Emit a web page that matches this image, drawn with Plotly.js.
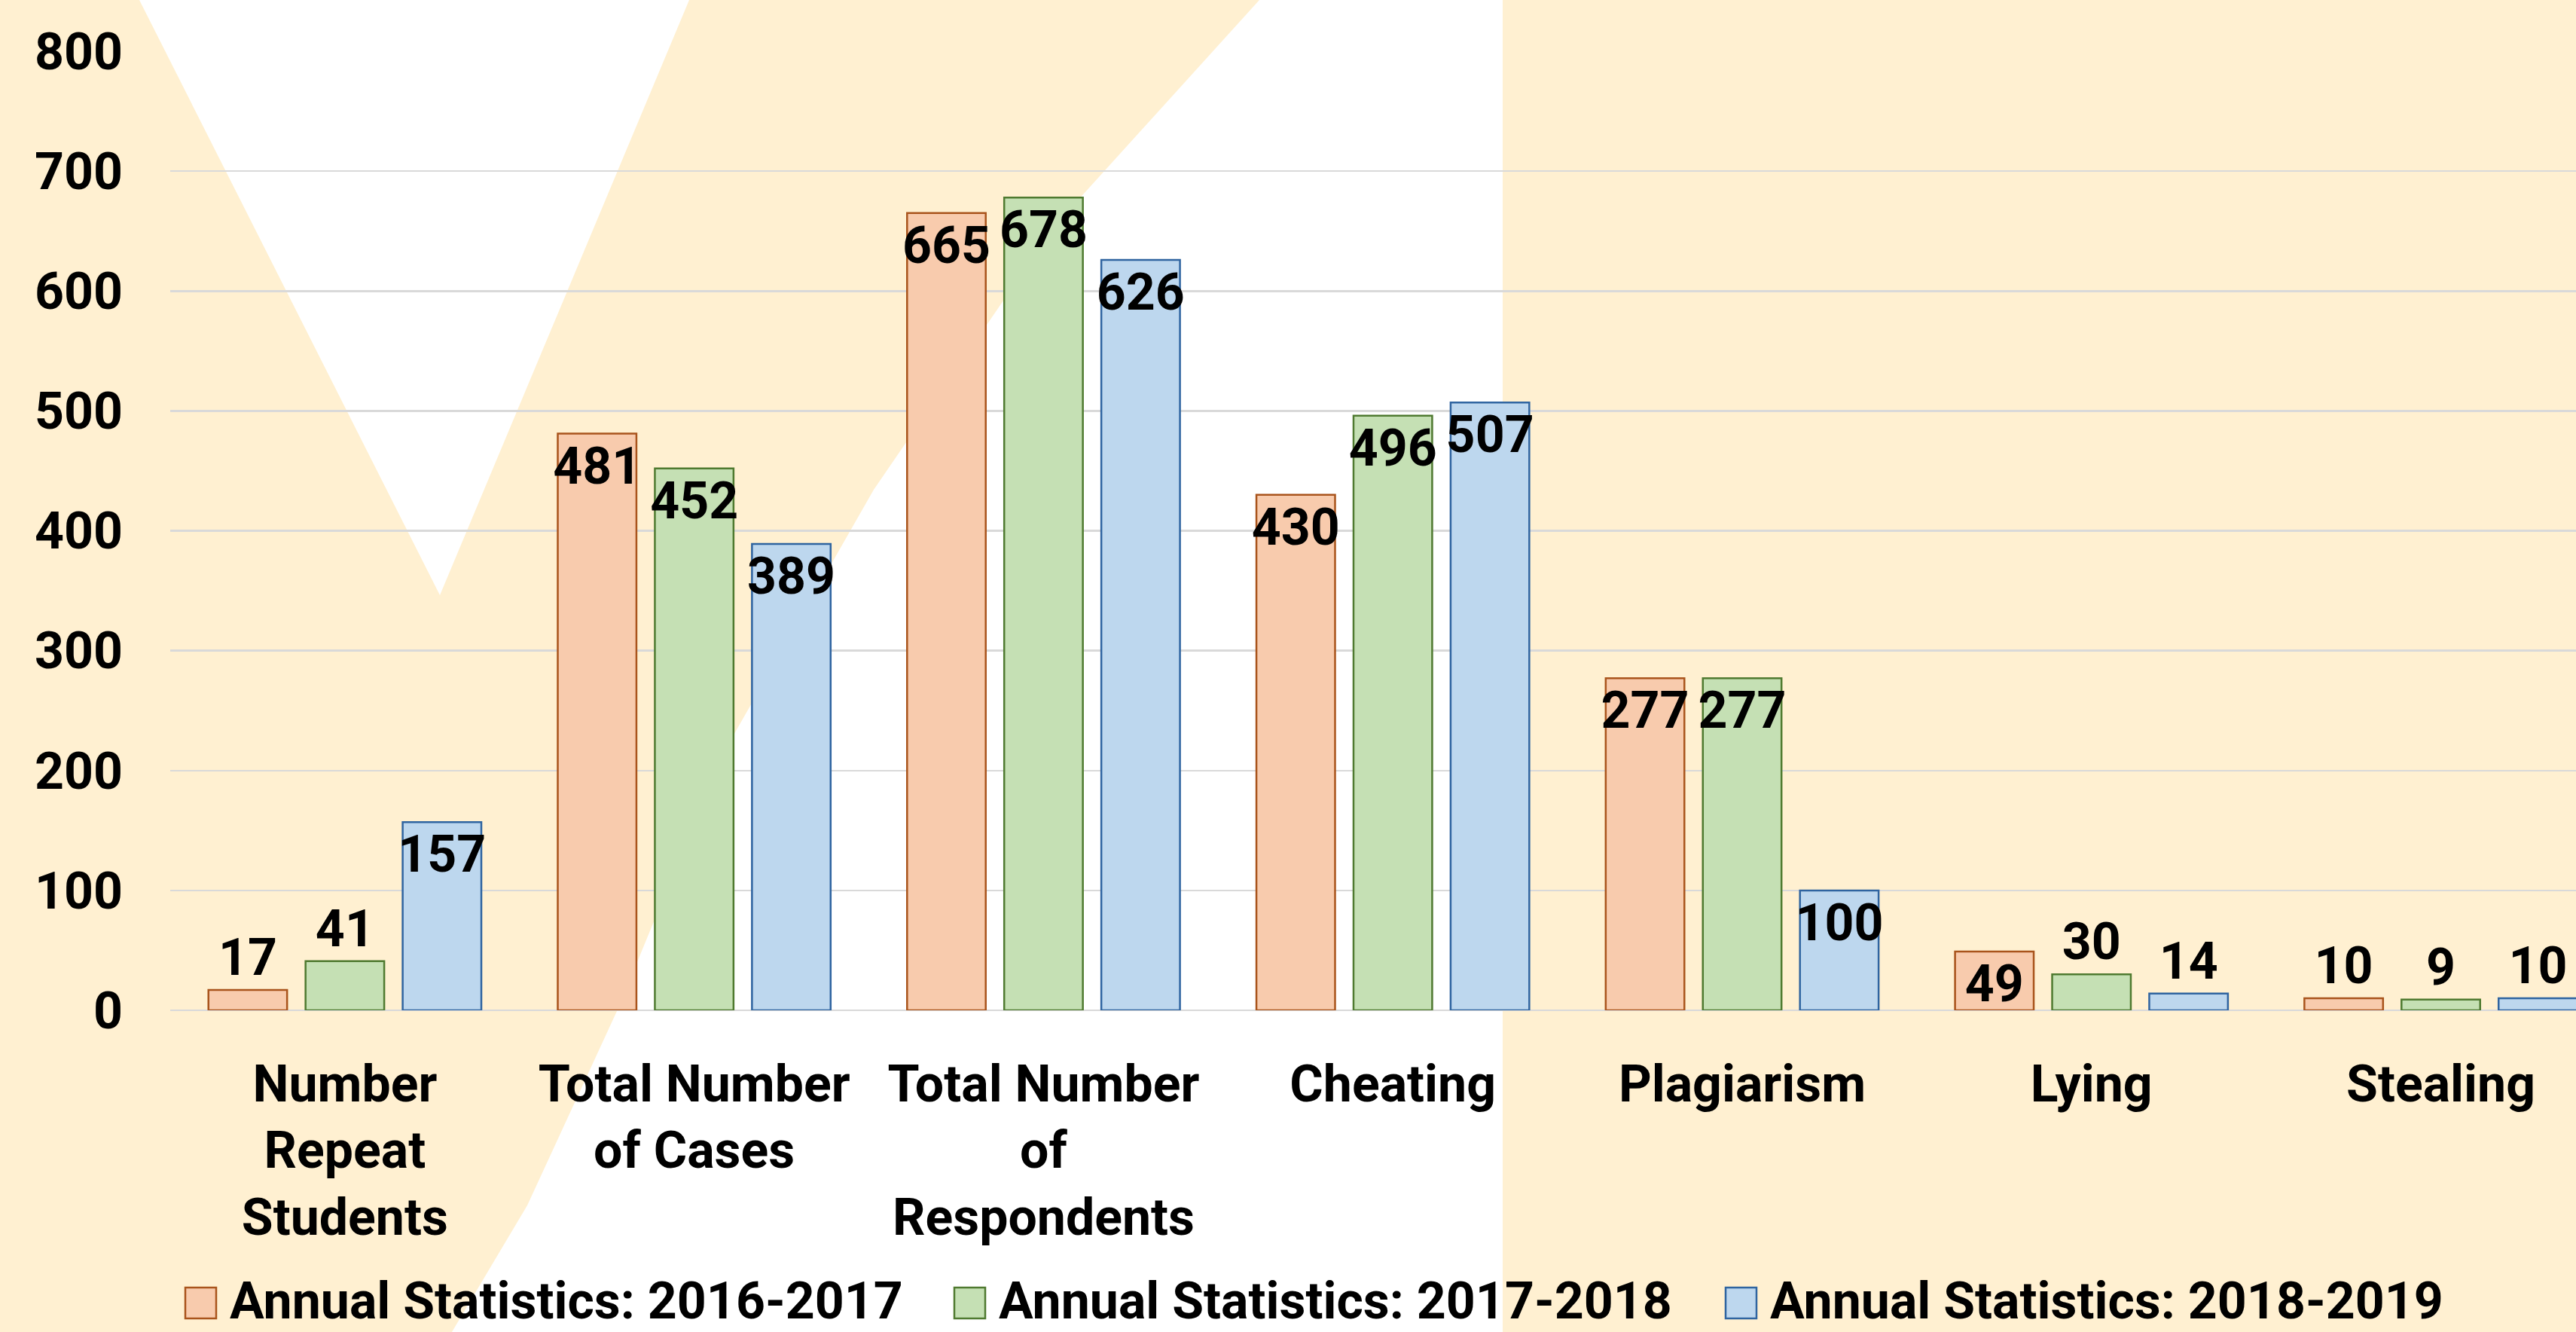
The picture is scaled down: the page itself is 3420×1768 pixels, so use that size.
<!DOCTYPE html>
<html>
<head>
<meta charset="utf-8">
<script src="https://cdn.plot.ly/plotly-3.0.1.min.js"></script>
<style>
  html, body { margin: 0; padding: 0; background: #FFF0D1; }
  #chart { width: 3420px; height: 1768px; }
</style>
</head>
<body>
<div id="chart"></div>
<script>
// ---- data ----
const categories = ['Number Repeat Students', 'Total Number of Cases', 'Total Number of Respondents', 'Cheating', 'Plagiarism', 'Lying', 'Stealing'];
const tickLabels = ['Number<br>Repeat<br>Students', 'Total Number<br>of Cases', 'Total Number<br>of<br>Respondents', 'Cheating', 'Plagiarism', 'Lying', 'Stealing'];
const seriesNames = ['Annual Statistics: 2016-2017', 'Annual Statistics: 2017-2018', 'Annual Statistics: 2018-2019'];
const values2016 = [17, 481, 665, 430, 277, 49, 10];
const values2017 = [41, 452, 678, 496, 277, 30, 9];
const values2018 = [157, 389, 626, 507, 100, 14, 10];
const yTicks = [0, 100, 200, 300, 400, 500, 600, 700, 800];

// ---- styling ----
const W = 3420, H = 1768;
const M = { l: 226, r: 0, t: 68, b: 427 };
const cream = '#FFF0D1';
const fills = ['#F8CBAD', '#C5E0B4', '#BDD7EE'];
const lines = ['#A9541C', '#4F7A30', '#2F64A0'];
const FONT = { family: 'Roboto, "Open Sans", sans-serif', size: 68, color: '#000000', weight: 700 };

const plotW = W - M.l - M.r, plotH = H - M.t - M.b;
const px = x => (x - M.l) / plotW;
const py = y => (H - M.b - y) / plotH;
function path(pts) {
  return 'M' + pts.map(p => px(p[0]).toFixed(5) + ',' + py(p[1]).toFixed(5)).join('L') + 'Z';
}

const seriesValues = [values2016, values2017, values2018];
const traces = seriesValues.map((vals, i) => ({
  type: 'bar',
  name: seriesNames[i],
  x: categories,
  y: vals,
  text: vals.map(String),
  textposition: vals.map(v => v >= 45 ? 'inside' : 'outside'),
  insidetextanchor: 'end',
  textangle: 0,
  constraintext: 'none',
  textfont: FONT,
  insidetextfont: FONT,
  outsidetextfont: FONT,
  marker: { color: fills[i], line: { color: lines[i], width: 2.5 } },
  hoverinfo: 'x+y+name'
}));

// background decoration (white swoosh shapes on cream)
const shapes = [
  { type: 'path', xref: 'paper', yref: 'paper', layer: 'below', line: { width: 0 }, fillcolor: '#FFFFFF',
    path: path([[185, 0], [915, 0], [584, 790]]) },
  { type: 'path', xref: 'paper', yref: 'paper', layer: 'below', line: { width: 0 }, fillcolor: '#FFFFFF',
    path: path([[1672, 0], [1995, 0], [1995, 1768], [600, 1768], [700, 1600], [820, 1340], [960, 1000], [1160, 650], [1400, 300]]) }
];

// custom legend (large swatches)
const legendX = [246, 1267, 2291];
const legendBottom = 1750;
const annotations = [];
seriesNames.forEach((name, i) => {
  shapes.push({ type: 'rect', xref: 'paper', yref: 'paper', layer: 'above',
    x0: px(legendX[i]), x1: px(legendX[i] + 41), y0: py(legendBottom), y1: py(legendBottom - 41),
    fillcolor: fills[i], line: { color: lines[i], width: 2.5 } });
  annotations.push({ xref: 'paper', yref: 'paper', x: px(legendX[i] + 58), y: py(H),
    xanchor: 'left', yanchor: 'bottom', showarrow: false, text: name, font: FONT, borderpad: 0 });
});

const layout = {
  width: W, height: H,
  margin: { l: M.l, r: M.r, t: M.t, b: M.b, pad: 0 },
  paper_bgcolor: cream,
  plot_bgcolor: 'rgba(0,0,0,0)',
  barmode: 'group',
  bargap: 0.166,
  bargroupgap: 0.19,
  showlegend: false,
  font: FONT,
  xaxis: {
    type: 'category',
    range: [-0.5, 6.387],
    tickvals: categories,
    ticktext: tickLabels,
    showgrid: false, zeroline: false, showline: false,
    ticks: '',
    tickfont: FONT,
    ticklabelstandoff: 52,
    automargin: false
  },
  yaxis: {
    range: [0, 800],
    tickvals: yTicks,
    ticktext: yTicks.map(String),
    showgrid: true, gridcolor: '#D9D9D9', gridwidth: 2.5,
    zeroline: true, zerolinecolor: '#D9D9D9', zerolinewidth: 2.5,
    showline: false, ticks: '',
    tickfont: FONT,
    ticklabelstandoff: 62,
    automargin: false
  },
  shapes: shapes,
  annotations: annotations
};

Plotly.newPlot('chart', traces, layout, { staticPlot: true, displayModeBar: false });
</script>
</body>
</html>
